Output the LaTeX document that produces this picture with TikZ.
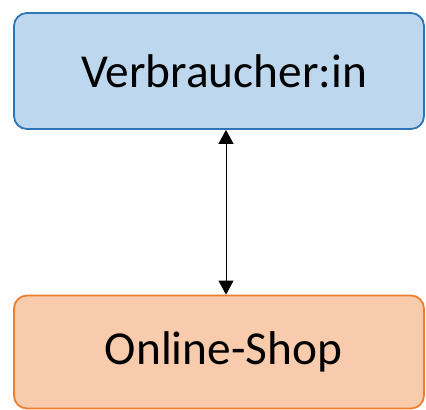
\documentclass[tikz,border=0pt]{standalone}
\usepackage{fontspec}
\setmainfont{Carlito}
\usetikzlibrary{arrows.meta}
\definecolor{bluefill}{HTML}{BDD7EE}
\definecolor{blueline}{HTML}{2E75B6}
\definecolor{orangefill}{HTML}{F8CBAD}
\definecolor{orangeline}{HTML}{ED7D31}
\begin{document}
\begin{tikzpicture}[x=1bp,y=-1bp,
  box/.style={rounded corners=13bp, line width=1.8bp, minimum width=410bp, inner sep=0pt,
    font=\fontsize{47.5}{52}\selectfont},
  link/.style={line width=0.9bp, {Triangle[length=14bp,width=15bp]}-{Triangle[length=14bp,width=15bp]}}
]
\useasboundingbox (0,0) rectangle (426,410);
\node[box, draw=blueline, fill=bluefill, minimum height=116bp] (top) at (219,71) {\hspace*{10bp}Verbraucher:in};
\node[box, draw=orangeline, fill=orangefill, minimum height=113bp] (shop) at (219,352) {\hspace*{9bp}Online-Shop};
\coordinate (ax) at (226,0);
\draw[link] (top.south -| ax) -- (shop.north -| ax);
\end{tikzpicture}
\end{document}
